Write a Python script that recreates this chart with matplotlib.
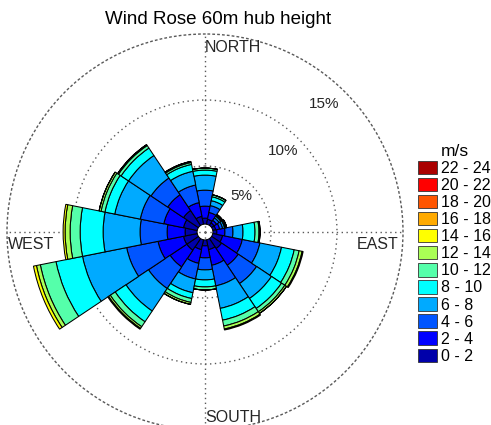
import matplotlib
matplotlib.use("Agg")
import matplotlib.pyplot as plt
import numpy as np
from matplotlib.patches import Patch

plt.rcParams["font.family"] = ["Liberation Sans", "DejaVu Sans"]

# 16 compass sectors, clockwise from north
directions = ["N", "NNE", "NE", "ENE", "E", "ESE", "SE", "SSE",
              "S", "SSW", "SW", "WSW", "W", "WNW", "NW", "NNW"]
speed_bins = ["0 - 2", "2 - 4", "4 - 6", "6 - 8", "8 - 10", "10 - 12",
              "12 - 14", "14 - 16", "16 - 18", "18 - 20", "20 - 22", "22 - 24"]

# frequency (%) per direction for each speed class
freq_0_2 = [0.45, 0.38, 0.23, 0.23, 0.30, 0.76, 0.91, 0.76,
            0.45, 0.76, 1.06, 1.06, 0.91, 1.06, 1.36, 0.61]
freq_2_4 = [0.91, 0.53, 0.23, 0.30, 0.61, 1.52, 1.52, 1.21,
            0.91, 1.06, 1.52, 1.97, 1.36, 1.52, 1.44, 1.06]
freq_4_6 = [1.21, 0.53, 0.23, 0.23, 0.61, 1.36, 1.67, 1.59,
            0.91, 1.21, 1.97, 2.42, 2.05, 1.82, 1.52, 1.36]
freq_6_8 = [1.14, 0.38, 0.15, 0.15, 0.76, 1.67, 1.36, 1.74,
            0.76, 1.06, 2.05, 3.41, 2.80, 1.97, 2.05, 1.06]
freq_8_10 = [0.38, 0.30, 0.08, 0.08, 0.91, 0.98, 0.91, 0.91,
             0.53, 0.45, 0.98, 2.05, 1.74, 0.76, 0.68, 0.53]
freq_10_12 = [0.15, 0.15, 0.08, 0.08, 0.30, 0.38, 0.30, 0.45,
              0.23, 0.30, 0.45, 1.21, 0.76, 0.30, 0.23, 0.15]
freq_12_14 = [0.00, 0.00, 0.00, 0.00, 0.08, 0.23, 0.15, 0.23,
              0.00, 0.15, 0.15, 0.30, 0.38, 0.15, 0.08, 0.08]
freq_14_16 = [0.00, 0.00, 0.00, 0.00, 0.00, 0.08, 0.00, 0.08,
              0.00, 0.00, 0.08, 0.23, 0.15, 0.00, 0.00, 0.00]
freq_16_18 = [0.0] * 16
freq_18_20 = [0.0] * 16
freq_20_22 = [0.0] * 16
freq_22_24 = [0.0] * 16

# matlab style jet(12)
colores = [(0, 0, 2/3), (0, 0, 1), (0, 1/3, 1), (0, 2/3, 1), (0, 1, 1),
           (1/3, 1, 2/3), (2/3, 1, 1/3), (1, 1, 0), (1, 2/3, 0), (1, 1/3, 0),
           (1, 0, 0), (2/3, 0, 0)]

series = [freq_0_2, freq_2_4, freq_4_6, freq_6_8, freq_8_10, freq_10_12,
          freq_12_14, freq_14_16, freq_16_18, freq_18_20, freq_20_22, freq_22_24]

W, H = 491, 425
fig = plt.figure(figsize=(W / 100, H / 100), dpi=100)

# polar axes: centre at (205, 232) px, 15% ring radius 198 px
cx, cy, rad = 205, 232, 198
ax = fig.add_axes([(cx - rad) / W, (H - cy - rad) / H, 2 * rad / W, 2 * rad / H],
                  projection="polar")
ax.set_theta_zero_location("N")
ax.set_theta_direction(-1)
ax.set_axisbelow(True)

theta = np.deg2rad(np.arange(16) * 22.5)
width = 2 * np.pi / 16
r0 = 0.6  # hole in the middle
bottom = np.full(16, r0)
for vals, col in zip(series, colores):
    vals = np.array(vals)
    if not vals.any():
        continue
    ax.bar(theta, vals, width=width, bottom=bottom, color=col,
           edgecolor="k", linewidth=0.75, align="center")
    bottom = bottom + vals

ax.set_ylim(0, 15)
ax.set_rgrids([5, 10], labels=[])
ax.set_thetagrids([0, 90, 180, 270], labels=[])
ax.grid(True, color="0.35", linestyle=(0, (1, 2.5)), linewidth=1.0)
ax.spines["polar"].set_linestyle((0, (1, 2.5)))
ax.spines["polar"].set_color("0.35")
ax.spines["polar"].set_linewidth(1.0)

for txt, r, ang in [("5%", 3.86, 45), ("10%", 8.5, 44), ("15%", 13.26, 43)]:
    ax.text(np.deg2rad(ang), r, txt, ha="center", va="center", fontsize=11,
            color="0.15")

def fpx(x, y):
    return x / W, 1 - y / H

fig.text(*fpx(218, 19), "Wind Rose 60m hub height", ha="center", va="center",
         fontsize=13.5)
fig.text(*fpx(205, 47), "NORTH", ha="left", va="center", fontsize=11.5, color="0.15")
fig.text(*fpx(205, 418), "SOUTH", ha="left", va="center", fontsize=11.5, color="0.15")
fig.text(*fpx(8, 245), "WEST", ha="left", va="center", fontsize=11.5, color="0.15")
fig.text(*fpx(398, 245), "EAST", ha="right", va="center", fontsize=11.5, color="0.15")

handles = [Patch(facecolor=c, edgecolor="0.2", linewidth=0.6, label=l)
           for c, l in zip(colores, speed_bins)][::-1]
leg = fig.legend(handles=handles, loc="upper left", bbox_to_anchor=fpx(418, 144),
                 frameon=False, fontsize=11.5, title="m/s", title_fontsize=12.5,
                 labelspacing=0.12, handlelength=1.2, handleheight=0.9,
                 handletextpad=0.25, borderaxespad=0, borderpad=0)

fig.savefig("out.png", dpi=100)
